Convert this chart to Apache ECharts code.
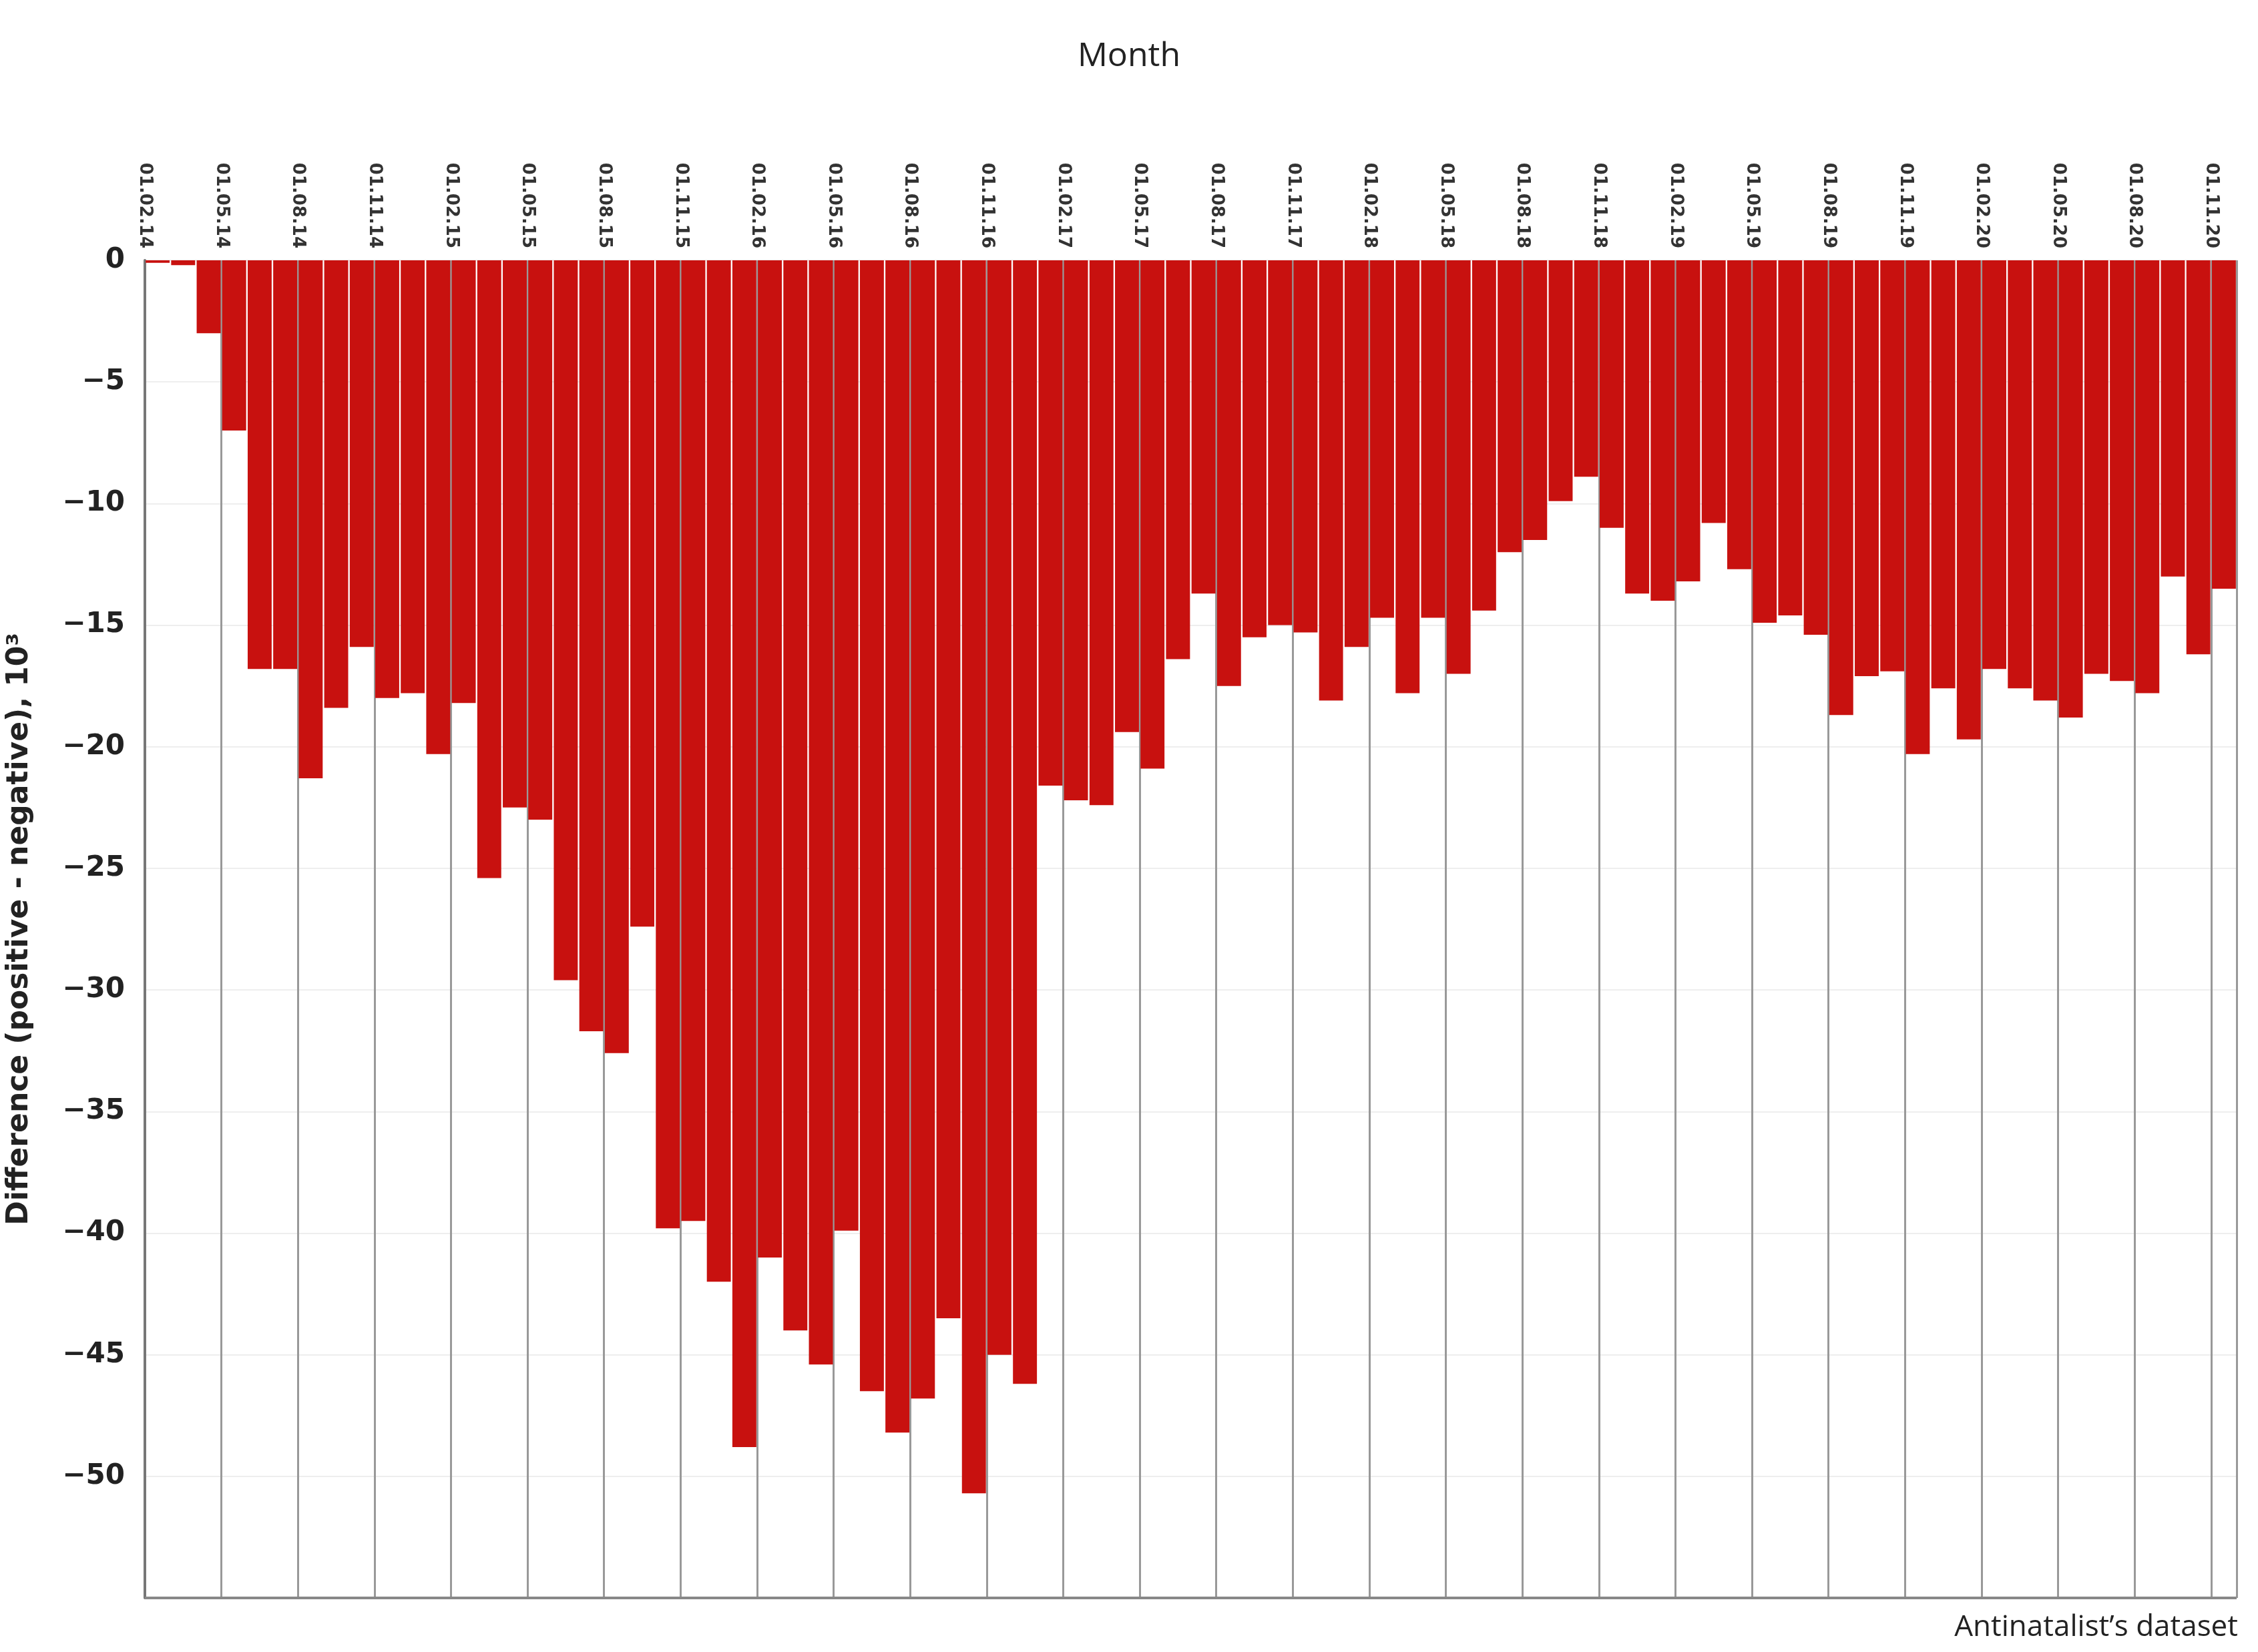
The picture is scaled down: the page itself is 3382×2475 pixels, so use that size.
<!DOCTYPE html>
<html>
<head>
<meta charset="utf-8">
<script src="https://cdn.jsdelivr.net/npm/echarts@6/dist/echarts.min.js"></script>
<style>html,body{margin:0;padding:0;background:#fff}#main{width:3382px;height:2475px}</style>
</head>
<body>
<div id="main"></div>
<script>
// monthly, 01.02.14 .. 01.11.20
const months = []
for (let i = 0; i < 82; i++) {
  const m = (1 + i) % 12 + 1
  const y = 14 + Math.floor((1 + i) / 12)
  months.push('01.' + String(m).padStart(2, '0') + '.' + y)
}
const values = [
  -0.1, -0.2, -3, -7, -16.8, -16.8, -21.3, -18.4, -15.9, -18, -17.8, -20.3,
  -18.2, -25.4, -22.5, -23, -29.6, -31.7, -32.6, -27.4, -39.8, -39.5, -42, -48.8,
  -41, -44, -45.4, -39.9, -46.5, -48.2, -46.8, -43.5, -50.7, -45, -46.2, -21.6,
  -22.2, -22.4, -19.4, -20.9, -16.4, -13.7, -17.5, -15.5, -15, -15.3, -18.1, -15.9,
  -14.7, -17.8, -14.7, -17, -14.4, -12, -11.5, -9.9, -8.9, -11, -13.7, -14,
  -13.2, -10.8, -12.7, -14.9, -14.6, -15.4, -18.7, -17.1, -16.9, -20.3, -17.6, -19.7,
  -16.8, -17.6, -18.1, -18.8, -17, -17.3, -17.8, -13, -16.2, -13.5
]
const yTicks = [0, -5, -10, -15, -20, -25, -30, -35, -40, -45, -50]

const chart = echarts.init(document.getElementById('main'))
chart.setOption({
  animation: false,
  title: [
    { text: 'Month', left: 'center', top: 55, textStyle: { fontFamily: 'Open Sans', fontSize: 50, fontWeight: 'normal', color: '#222' } },
    { text: 'Antinatalist\u2019s dataset', right: 25, bottom: 10, textStyle: { fontFamily: 'Open Sans', fontSize: 44, fontWeight: 'normal', color: '#222' } }
  ],
  grid: { left: 217, right: 32, top: 390, bottom: 81 },
  xAxis: [
    {
      type: 'category', data: months, show: false
    },
    {
      type: 'value', position: 'top', min: 0, max: 82, interval: 3,
      axisLine: { show: false }, axisTick: { show: false },
      axisLabel: {
        rotate: 90, fontSize: 26, fontWeight: 'bold', fontFamily: 'DejaVu Sans', color: '#333', margin: 18,
        formatter: v => months[v] || ''
      },
      splitLine: { show: true, lineStyle: { color: '#999', width: 3 } }
    }
  ],
  yAxis: {
    type: 'value', min: -55, max: 0, interval: 5,
    name: 'Difference (positive - negative), 10\u00b3', nameLocation: 'middle', nameGap: 165,
    nameTextStyle: { fontSize: 44, fontWeight: 'bold', fontFamily: 'DejaVu Sans', color: '#222' },
    axisLine: { show: true, lineStyle: { color: '#777', width: 4 } },
    axisTick: { show: false },
    axisLabel: {
      fontSize: 42, fontWeight: 'bold', fontFamily: 'DejaVu Sans', color: '#222', margin: 30,
      formatter: v => (yTicks.indexOf(v) >= 0 ? (v < 0 ? '\u2212' + (-v) : '' + v) : '')
    },
    splitLine: { show: true, lineStyle: { color: '#eee', width: 2 } }
  },
  series: [{
    type: 'bar', data: values, xAxisIndex: 0,
    barCategoryGap: '6%',
    itemStyle: { color: '#c8110f' }
  }, {
    type: 'line', xAxisIndex: 0, data: [], silent: true,
    markLine: {
      symbol: 'none', silent: true, label: { show: false },
      lineStyle: { color: '#888', width: 4, type: 'solid' },
      data: [{ yAxis: -55 }]
    }
  }]
})
</script>
</body>
</html>
